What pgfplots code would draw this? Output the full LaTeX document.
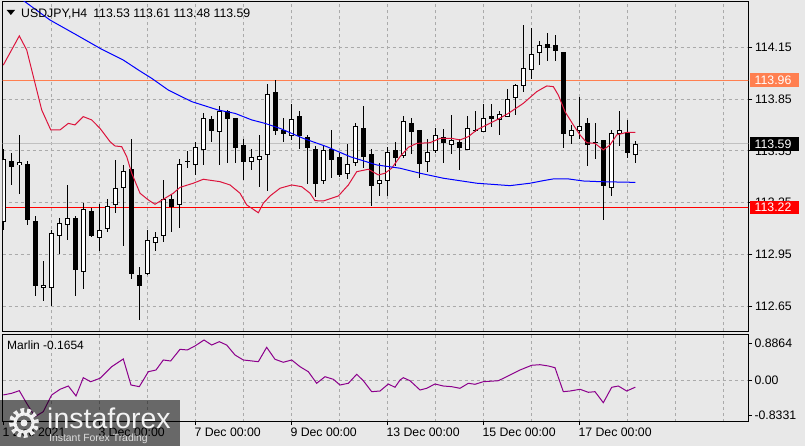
\documentclass[border=0pt]{standalone}
\usepackage{fontspec}
\setmainfont{Liberation Sans}
\usepackage{pgfplots}
\usepackage{pgfplotstable}
\pgfplotsset{compat=1.18}

\definecolor{bg}{RGB}{232,232,232}
\definecolor{gridc}{RGB}{170,170,170}
\definecolor{macr}{RGB}{220,20,60}
\definecolor{mablue}{RGB}{0,0,255}
\definecolor{coral}{RGB}{255,127,80}
\definecolor{marlin}{RGB}{140,0,140}
\definecolor{bidgray}{RGB}{192,192,192}
\newcommand{\fs}{\fontsize{12.3}{14}\selectfont}

\pgfplotstableread{
i o h l c
0 113.14 113.56 113.09 113.50
1 113.49 113.54 113.35 113.46
2 113.47 113.64 113.30 113.48
3 113.47 113.49 113.12 113.15
4 113.14 113.17 112.71 112.77
5 112.76 112.91 112.68 112.77
6 112.76 113.09 112.65 113.07
7 113.06 113.16 112.95 113.13
8 113.12 113.35 113.03 113.16
9 113.16 113.17 112.71 112.86
10 112.85 113.25 112.75 113.21
11 113.20 113.22 113.05 113.06
12 113.05 113.24 112.97 113.09
13 113.10 113.27 113.08 113.23
14 113.24 113.50 113.19 113.33
15 113.34 113.47 113.00 113.43
16 113.44 113.62 112.81 112.84
17 112.83 112.88 112.57 112.77
18 112.84 113.09 112.83 113.03
19 113.02 113.08 112.97 113.05
20 113.06 113.38 113.02 113.27
21 113.27 113.30 113.08 113.23
22 113.24 113.50 113.10 113.47
23 113.49 113.55 113.45 113.49
24 113.47 113.60 113.41 113.57
25 113.56 113.77 113.47 113.74
26 113.73 113.75 113.60 113.67
27 113.66 113.81 113.47 113.78
28 113.78 113.79 113.48 113.74
29 113.74 113.74 113.48 113.57
30 113.58 113.62 113.38 113.49
31 113.49 113.56 113.44 113.51
32 113.50 113.64 113.34 113.52
33 113.53 113.94 113.32 113.88
34 113.89 113.96 113.64 113.67
35 113.67 113.74 113.60 113.65
36 113.64 113.82 113.61 113.73
37 113.75 113.78 113.56 113.64
38 113.63 113.64 113.36 113.57
39 113.56 113.58 113.28 113.36
40 113.38 113.58 113.36 113.55
41 113.56 113.67 113.39 113.50
42 113.51 113.54 113.40 113.41
43 113.42 113.59 113.39 113.47
44 113.48 113.71 113.46 113.69
45 113.68 113.81 113.45 113.52
46 113.53 113.56 113.23 113.35
47 113.36 113.48 113.29 113.38
48 113.38 113.57 113.29 113.54
49 113.55 113.60 113.46 113.51
50 113.52 113.75 113.51 113.72
51 113.71 113.74 113.53 113.66
52 113.67 113.67 113.39 113.48
53 113.49 113.62 113.43 113.54
54 113.55 113.68 113.54 113.64
55 113.63 113.68 113.48 113.60
56 113.59 113.76 113.53 113.61
57 113.60 113.62 113.44 113.57
58 113.56 113.75 113.56 113.68
59 113.67 113.78 113.66 113.67
60 113.66 113.82 113.66 113.74
61 113.75 113.82 113.69 113.74
62 113.73 113.78 113.64 113.76
63 113.75 113.91 113.75 113.85
64 113.86 113.94 113.76 113.93
65 113.93 114.28 113.89 114.03
66 114.02 114.26 113.97 114.11
67 114.12 114.19 114.05 114.16
68 114.17 114.23 114.07 114.15
69 114.16 114.22 114.07 114.13
70 114.12 114.12 113.57 113.65
71 113.64 113.70 113.59 113.67
72 113.67 113.86 113.62 113.69
73 113.71 113.74 113.46 113.59
74 113.60 113.71 113.50 113.60
75 113.61 113.61 113.15 113.35
76 113.34 113.67 113.29 113.65
77 113.65 113.78 113.58 113.67
78 113.65 113.73 113.51 113.54
79 113.53 113.61 113.48 113.59
}\ohlc

\begin{document}
\begin{tikzpicture}[x=1pt,y=1pt]
\fill[bg] (0,0) rectangle (805,446);
\useasboundingbox (0,0) rectangle (805,446);

% ---------------- main price panel
\begin{axis}[
  at={(2.5pt,114.5pt)}, anchor=south west,
  scale only axis, width=745.8pt, height=330pt,
  xmin=-0.1, xmax=93.125, ymin=112.5025, ymax=114.4155,
  axis line style={black, line width=1pt},
  xtick={6,12,...,90}, xticklabel=\empty, xtick style={draw=none},
  ytick={112.65,112.95,113.25,113.55,113.85,114.15},
  yticklabels={112.65,112.95,113.25,113.55,113.85,114.15},
  ytick pos=right, yticklabel pos=right,
  tick align=outside, major tick length=4pt,
  ytick style={black, line width=1pt},
  yticklabel style={font=\fs, anchor=west, inner sep=0pt, xshift=2.5pt},
  xmajorgrids, ymajorgrids,
  grid style={gridc, dash pattern=on 3pt off 3pt, line width=0.8pt},
]
\addplot[coral, line width=1pt] coordinates {(-1,113.96) (95,113.96)};
\addplot[red, line width=1pt] coordinates {(-1,113.22) (95,113.22)};
\addplot[bidgray, line width=1pt] coordinates {(-1,113.59) (95,113.59)};

% wicks
\addplot[draw=none, mark=none,
  error bars/.cd, y dir=both, y explicit, error mark=none,
  error bar style={draw=black, solid, line width=1pt}]
  table[x=i, y expr={(\thisrow{h}+\thisrow{l})/2}, y error expr={(\thisrow{h}-\thisrow{l})/2}] {\ohlc};
% bodies (outline / bear fill)
\addplot[draw=none, mark=none,
  error bars/.cd, y dir=both, y explicit, error mark=none,
  error bar style={draw=black, solid, line width=5pt}]
  table[x=i, y expr={(\thisrow{o}+\thisrow{c})/2}, y error expr={abs(\thisrow{c}-\thisrow{o})/2+0.0029}] {\ohlc};
% bull interiors
\addplot[draw=none, mark=none, restrict y to domain=100:200,
  error bars/.cd, y dir=both, y explicit, error mark=none,
  error bar style={draw=white, solid, line width=3pt}]
  table[x=i, y expr={\thisrow{c}>\thisrow{o} ? (\thisrow{o}+\thisrow{c})/2 : 0}, y error expr={max(abs(\thisrow{c}-\thisrow{o})/2-0.0029,0)}] {\ohlc};

% fast MA (red)
\addplot[macr, line width=1pt] coordinates {
(0,114.047) (2,114.216) (2.93,114.134) (4.8,113.787) (5.93,113.671) (7.09,113.671) (8.13,113.709) (8.96,113.70) (10,113.748) (11.05,113.729) (12.09,113.68) (13.34,113.603) (13.96,113.578) (14.8,113.574) (15.43,113.516) (16.05,113.42) (17.09,113.304) (18.13,113.265) (18.96,113.24) (20,113.269) (21.25,113.304) (22.09,113.338) (23.75,113.362) (25,113.385) (27.09,113.371) (28.34,113.352) (29.59,113.304) (30.43,113.236) (31.88,113.191) (32.5,113.246) (33.34,113.288) (34.59,113.333) (36.05,113.352) (37.3,113.342) (38.34,113.304) (38.96,113.261) (40,113.259) (41.88,113.288) (43.13,113.352) (44.18,113.429) (45.63,113.443) (46.88,113.41) (47.71,113.42) (48.55,113.449) (49.59,113.516) (50.63,113.57) (51.68,113.593) (53.34,113.597) (54.59,113.622) (56.05,113.622) (57.09,113.613) (58.13,113.632) (59.18,113.671) (60.43,113.70) (61.68,113.729) (63.13,113.767) (65,113.825) (66.68,113.893) (67.93,113.926) (68.75,113.922) (69.38,113.873) (70.21,113.777) (71.25,113.70) (72.09,113.642) (72.93,113.597) (73.96,113.593) (75,113.555) (75.84,113.584) (76.68,113.642) (77.93,113.657) (79,113.657)};
% slow MA (blue)
\addplot[mablue, line width=1pt] coordinates {
(0,114.50) (2.71,114.414) (5.84,114.308) (9.18,114.221) (12.09,114.144) (15,114.076) (16.9,114.018) (18.55,113.97) (20.63,113.902) (23.55,113.835) (26.88,113.786) (28.96,113.767) (31.05,113.729) (32.71,113.709) (34.59,113.68) (37.5,113.622) (40.43,113.574) (43.34,113.516) (46.68,113.468) (49.59,113.449) (52.09,113.42) (55,113.391) (59.18,113.362) (63.34,113.348) (65.84,113.362) (67.5,113.377) (68.75,113.387) (70.63,113.387) (72.5,113.375) (74.59,113.371) (79,113.367)};
\end{axis}

% ---------------- indicator panel
\begin{axis}[
  at={(2.5pt,24.3pt)}, anchor=south west,
  scale only axis, width=745.8pt, height=87.4pt,
  xmin=-0.1, xmax=93.125, ymin=-0.993, ymax=1.103,
  axis line style={black, line width=1pt},
  xtick={0,12,24,36,48,60,72},
  xticklabels={1 Dec 2021, 3 Dec 00:00, 7 Dec 00:00, 9 Dec 00:00, 13 Dec 00:00, 15 Dec 00:00, 17 Dec 00:00},
  xtick pos=bottom,
  minor xtick={6,12,...,90}, xminorgrids, minor x tick style={draw=none},
  ytick={0}, yticklabels={0.00},
  extra y ticks={-0.8331,0.8864}, extra y tick labels={-0.8331,0.8864},
  extra y tick style={grid=none},
  ytick pos=right, yticklabel pos=right,
  tick align=outside, major tick length=3.5pt,
  tick style={black, line width=1pt},
  yticklabel style={font=\fs, anchor=west, inner sep=0pt, xshift=2.5pt},
  xticklabel style={font=\fs, anchor=north west, inner sep=0pt, xshift=-1pt, yshift=-3pt},
  ymajorgrids,
  grid style={gridc, dash pattern=on 3pt off 3pt, line width=0.8pt},
  minor grid style={gridc, dash pattern=on 3pt off 3pt, line width=0.8pt},
]
\addplot[marlin, line width=1pt] coordinates {
(0,-0.352) (1.05,-0.312) (2,-0.249) (2.92,-0.552) (3.96,-0.873) (5,-0.753) (6.05,-0.352) (7.09,-0.216) (8.13,-0.137) (9.09,-0.376) (10,0.062) (10.92,-0.034) (12.09,0.048) (13.55,0.326) (15,0.511) (15.96,-0.113) (17,-0.153) (18.13,0.206) (19.09,0.247) (20,0.487) (20.92,0.463) (22.09,0.743) (23,0.727) (23.96,0.823) (25.09,0.966) (26.05,0.846) (27,0.926) (27.92,0.846) (28.96,0.607) (30,0.487) (31.88,0.446) (32.92,0.791) (33.96,0.504) (35,0.432) (36.05,0.487) (37.09,0.326) (38.13,0.206) (39.17,-0.072) (40.21,0.086) (41.25,0.024) (42.09,-0.113) (43.13,-0.072) (44.18,0.144) (45,-0.010) (46.05,-0.273) (47.09,-0.257) (48.13,-0.089) (48.96,-0.168) (49.59,0.007) (50,0.062) (50.84,-0.010) (52.09,-0.233) (52.92,-0.192) (53.96,-0.089) (55,-0.137) (56.05,-0.153) (57.09,-0.192) (58.13,-0.072) (58.96,-0.096) (60,-0.034) (61.88,-0.010) (62.92,0.086) (64.59,0.247) (66.05,0.360) (67.09,0.374) (68.13,0.343) (68.96,0.302) (70,-0.273) (70.84,-0.257) (72.09,-0.216) (73.13,-0.288) (73.96,-0.273) (75,-0.537) (76.05,-0.168) (76.88,-0.137) (77.92,-0.257) (79,-0.1654)};
\end{axis}

% ---------------- texts and price tags
\fill[black] (6.7,436) -- (15,436) -- (10.85,431) -- cycle;
\node[anchor=base west, font=\fs, inner sep=0pt] at (21,428.7) {USDJPY,H4\hspace{6pt}113.53 113.61 113.48 113.59};
\node[anchor=base west, font=\fontsize{12}{14}\selectfont, inner sep=0pt] at (7,96.7) {Marlin -0.1654};

\fill[coral] (750,359) rectangle (799,373);
\node[anchor=west, font=\fs, text=white, inner sep=0pt] at (754.5,366) {113.96};
\fill[black] (750,295.3) rectangle (799,308.8);
\node[anchor=west, font=\fs, text=white, inner sep=0pt] at (754.5,302.1) {113.59};
\fill[red] (750,231.5) rectangle (799,245);
\node[anchor=west, font=\fs, text=white, inner sep=0pt] at (754.5,238.3) {113.22};

% ---------------- watermark
\fill[black, opacity=0.55] (0,0) rectangle (180,45.5);
\begin{scope}[white, opacity=0.9]
\draw[line width=5pt, dash pattern=on 3.5pt off 3pt] (24,23) circle (12.5);
\draw[line width=3pt] (24,23) circle (9);
\fill (24,23) circle (3.5);
\end{scope}
\node[anchor=base west, text=white, opacity=0.92, font=\fontsize{28.5}{30}\selectfont, inner sep=0pt] at (47,17) {instaforex};
\node[anchor=base west, text=white!85!gray, opacity=0.9, font=\fontsize{10.4}{12}\selectfont, inner sep=0pt] at (49,4.5) {Instant Forex Trading};
\end{tikzpicture}
\end{document}
